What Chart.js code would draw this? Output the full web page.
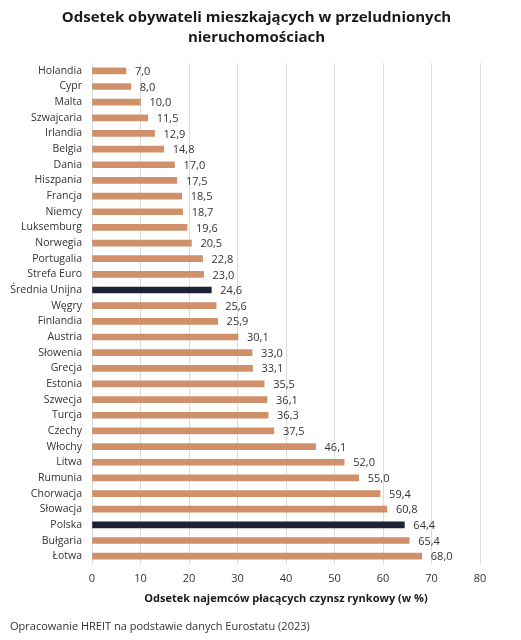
<!DOCTYPE html>
<html>
<head>
<meta charset="utf-8">
<script src="https://cdn.jsdelivr.net/npm/chart.js@4"></script>
<style>
  html, body { margin: 0; padding: 0; background: #fff; }
  #wrap { width: 521px; height: 640px; }
</style>
</head>
<body>
<div id="wrap"><canvas id="chart"></canvas></div>
<script>
// Data
const countries = ['Holandia', 'Cypr', 'Malta', 'Szwajcaria', 'Irlandia', 'Belgia', 'Dania', 'Hiszpania',
  'Francja', 'Niemcy', 'Luksemburg', 'Norwegia', 'Portugalia', 'Strefa Euro', 'Średnia Unijna', 'Węgry',
  'Finlandia', 'Austria', 'Słowenia', 'Grecja', 'Estonia', 'Szwecja', 'Turcja', 'Czechy', 'Włochy',
  'Litwa', 'Rumunia', 'Chorwacja', 'Słowacja', 'Polska', 'Bułgaria', 'Łotwa'];
const shares = [7.0, 8.0, 10.0, 11.5, 12.9, 14.8, 17.0, 17.5, 18.5, 18.7, 19.6, 20.5, 22.8, 23.0, 24.6, 25.6,
  25.9, 30.1, 33.0, 33.1, 35.5, 36.1, 36.3, 37.5, 46.1, 52.0, 55.0, 59.4, 60.8, 64.4, 65.4, 68.0];
const highlighted = ['Średnia Unijna', 'Polska'];
const titleLines = ['Odsetek obywateli mieszkających w przeludnionych', 'nieruchomościach'];
const sourceText = 'Opracowanie HREIT na podstawie danych Eurostatu (2023)';

// Colours
const BAR_COLOR = '#D0916A';
const HIGHLIGHT_COLOR = '#1E2235';
const TEXT_COLOR = '#333333';
const FONT = "'Open Sans', sans-serif";

// Polish number format, one decimal
function formatValue(v) {
    return v.toFixed(1).replace('.', ',');
}

// Value labels, title (centred on the page) and source note
const extraText = {
    id: 'extraText',
    afterDatasetsDraw(chart) {
        const ctx = chart.ctx;
        const meta = chart.getDatasetMeta(0);
        ctx.save();
        ctx.font = '11px ' + FONT;
        ctx.fillStyle = TEXT_COLOR;
        ctx.textAlign = 'left';
        ctx.textBaseline = 'middle';
        meta.data.forEach((bar, i) => {
            ctx.fillText(formatValue(shares[i]), bar.x + 9, bar.y + 1);
        });
        ctx.fillText(sourceText, 10, 627);

        ctx.font = 'bold 15px ' + FONT;
        ctx.fillStyle = '#1a1a1a';
        ctx.textAlign = 'center';
        titleLines.forEach((line, i) => {
            ctx.fillText(line, chart.width / 2 - 4, 18 + i * 20);
        });
        ctx.restore();
    }
};

const ctx = document.getElementById('chart').getContext('2d');
new Chart(ctx, {
    type: 'bar',
    data: {
        labels: countries,
        datasets: [{
            data: shares,
            backgroundColor: countries.map(c => highlighted.includes(c) ? HIGHLIGHT_COLOR : BAR_COLOR),
            barThickness: 6
        }]
    },
    options: {
        indexAxis: 'y',
        responsive: true,
        maintainAspectRatio: false,
        animation: false,
        layout: { padding: { left: 0, right: 41, top: 63, bottom: 20 } },
        scales: {
            x: {
                min: 0,
                max: 80,
                ticks: { stepSize: 10, color: TEXT_COLOR, font: { family: FONT, size: 11 }, padding: 8 },
                grid: { color: '#dcdcdc', drawTicks: false },
                border: { display: false },
                title: {
                    display: true,
                    text: 'Odsetek najemców płacących czynsz rynkowy (w %)',
                    color: '#1a1a1a',
                    font: { family: FONT, size: 11, weight: 'bold' },
                    padding: { top: 4, bottom: 15 }
                },
                afterFit(scale) { scale.height = 56; }
            },
            y: {
                ticks: { color: TEXT_COLOR, font: { family: FONT, size: 10.5 }, padding: 10, autoSkip: false },
                grid: { display: false, drawTicks: false },
                border: { display: false },
                afterFit(scale) { scale.width = 92; }
            }
        },
        plugins: {
            legend: { display: false },
            tooltip: { enabled: false },
            title: { display: false }
        }
    },
    plugins: [extraText]
});
</script>
</body>
</html>
